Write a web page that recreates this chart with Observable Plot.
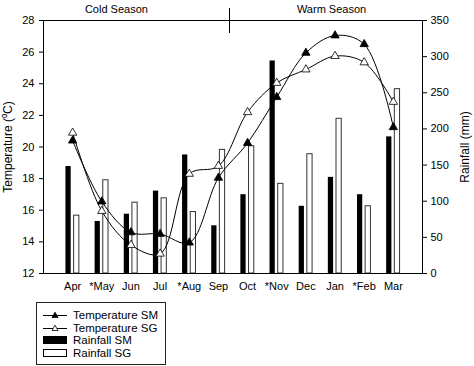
<!DOCTYPE html>
<html>
<head>
<meta charset="utf-8">
<script src="https://cdn.jsdelivr.net/npm/d3@7"></script>
<script src="https://cdn.jsdelivr.net/npm/@observablehq/plot@0.6"></script>
<style>
  body { margin: 0; background: white; font-family: "Liberation Sans", Arial, sans-serif; }
  #chart svg { display: block; }
  #legend { margin-left: 36px; margin-top: 4px; width: 128px; border: 1.5px solid #222; padding: 6px 0 5px 0; font-size: 11.5px; color: #000; }
  #legend .row { display: flex; align-items: center; height: 12.5px; }
  #legend svg { margin-left: 6px; margin-right: 6px; }
</style>
</head>
<body>
<div id="chart"></div>
<div id="legend"></div>
<script>
const months = ["Apr","*May","Jun","Jul","*Aug","Sep","Oct","*Nov","Dec","Jan","*Feb","Mar"];
const tempSM = [20.4,16.55,14.6,14.5,13.95,18.05,20.25,23.15,25.95,27.05,26.5,21.25];
const tempSG = [20.9,15.95,13.8,13.25,18.3,18.8,22.2,24.05,24.9,25.75,25.35,22.85];
const rainSM = [148,72,82,114,164,66,109,294,93,133,109,189];
const rainSG = [80,129,98,104,85,171,176,124,165,214,93,255];
const tempTicks = [12,14,16,18,20,22,24,26,28];
const rainTicks = [0,50,100,150,200,250,300,350];
const seasons = [{x: 1.5, label: "Cold Season"}, {x: 8.88, label: "Warm Season"}];

const toT = r => 12 + r * 16 / 350;
const data = months.map((m, i) => ({i, m, tSM: tempSM[i], tSG: tempSG[i], rSM: rainSM[i], rSG: rainSG[i]}));

const chart = Plot.plot({
  width: 474, height: 298,
  marginLeft: 43, marginRight: 52, marginTop: 20, marginBottom: 25,
  style: {fontFamily: "'Liberation Sans', Arial, sans-serif", fontSize: "11px", color: "#000"},
  x: {domain: [-1, 12], axis: null},
  y: {domain: [12, 28], axis: null},
  marks: [
    Plot.rect(data, {x1: d => d.i - 0.23, x2: d => d.i - 0.05, y1: 12, y2: d => toT(d.rSM), fill: "black"}),
    Plot.rect(data, {x1: d => d.i + 0.05, x2: d => d.i + 0.23, y1: 12, y2: d => toT(d.rSG), fill: "white", stroke: "#333", strokeWidth: 1}),
    Plot.line(data, {x: "i", y: "tSM", curve: "catmull-rom", stroke: "black", strokeWidth: 1}),
    Plot.line(data, {x: "i", y: "tSG", curve: "catmull-rom", stroke: "black", strokeWidth: 1}),
    Plot.dot(data, {x: "i", y: "tSM", symbol: "triangle", r: 3.1, fill: "black", stroke: "black", strokeWidth: 0.8}),
    Plot.dot(data, {x: "i", y: "tSG", symbol: "triangle", r: 3.1, fill: "white", stroke: "black", strokeWidth: 0.8}),
    Plot.frame({stroke: "black", strokeWidth: 1}),
    Plot.axisY(tempTicks, {anchor: "left", tickSize: 4, tickPadding: 5, label: "Temperature (⁰C)", labelAnchor: "center", labelArrow: "none", labelOffset: 40, fontSize: 11}),
    Plot.axisY(rainTicks.map(toT), {anchor: "right", tickSize: 4, tickPadding: 4, tickFormat: d => String(Math.round((d - 12) * 350 / 16)), label: "Rainfall (mm)", labelAnchor: "center", labelArrow: "none", labelOffset: 46, fontSize: 11}),
    Plot.axisX(d3.range(12), {anchor: "bottom", tickSize: 0, tickPadding: 9, tickFormat: i => months[i], fontSize: 11}),
    Plot.text(seasons, {x: "x", text: "label", frameAnchor: "top", dy: -15, fontSize: 11}),
    Plot.ruleX([5.38], {y1: 27.18, y2: 28.76, stroke: "black", strokeWidth: 1})
  ]
});
document.getElementById("chart").appendChild(chart);
chart.querySelectorAll("[aria-label='y-axis label'] text, [aria-label='y-axis label']").forEach(el => el.setAttribute("font-size", "12"));

// Legend
const legendItems = [
  {label: "Temperature SM", type: "line", fill: "black"},
  {label: "Temperature SG", type: "line", fill: "white"},
  {label: "Rainfall SM", type: "bar", fill: "black"},
  {label: "Rainfall SG", type: "bar", fill: "white"}
];
const legend = document.getElementById("legend");
for (const it of legendItems) {
  const row = document.createElement("div");
  row.className = "row";
  let sym;
  if (it.type === "line") {
    sym = `<svg width="24" height="10"><line x1="0" x2="24" y1="5.5" y2="5.5" stroke="black" stroke-width="1"/><path d="M12,2.2 L15,7.5 L9,7.5 Z" fill="${it.fill}" stroke="black" stroke-width="0.8"/></svg>`;
  } else {
    sym = `<svg width="24" height="10"><rect x="0.5" y="1.5" width="23" height="7" fill="${it.fill}" stroke="black" stroke-width="1"/></svg>`;
  }
  row.innerHTML = sym + `<span>${it.label}</span>`;
  legend.appendChild(row);
}
</script>
</body>
</html>
